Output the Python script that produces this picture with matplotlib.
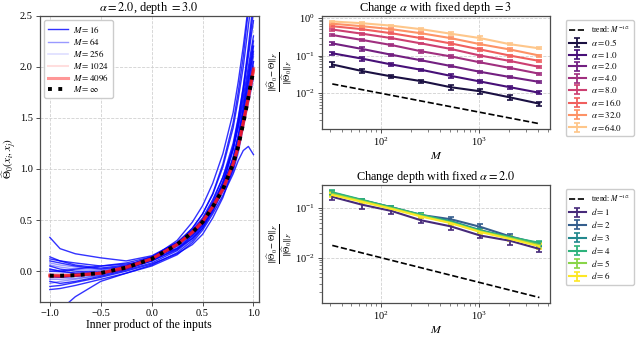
import numpy as np
import matplotlib
matplotlib.use("Agg")
import matplotlib.pyplot as plt

plt.rcParams['font.family'] = ['Liberation Serif', 'DejaVu Serif']
plt.rcParams['mathtext.fontset'] = 'stix'

# ---- left panel: empirical kernel vs inner product ----
grid_x = [-1.0, -0.9, -0.75, -0.5, -0.25, 0.0, 0.25, 0.4, 0.5, 0.6, 0.7, 0.8, 0.85, 0.9, 0.95, 1.0]
theta_inf = [-0.045, -0.045, -0.04, -0.018, 0.035, 0.12, 0.26, 0.38, 0.48, 0.63, 0.80, 1.05, 1.22, 1.45, 1.70, 1.97]

curves_m16 = [
    [0.33, 0.22, 0.17, 0.13, 0.10, 0.15, 0.28, 0.40, 0.52, 0.70, 0.92, 1.20, 1.42, 1.70, 2.00, 2.30],
    [-0.45, -0.38, -0.25, -0.10, -0.02, 0.05, 0.16, 0.28, 0.40, 0.56, 0.74, 0.95, 1.08, 1.18, 1.22, 1.14],
    [0.14, 0.10, 0.06, 0.03, 0.06, 0.13, 0.30, 0.48, 0.64, 0.86, 1.15, 1.55, 1.85, 2.20, 2.60, 3.00],
    [0.10, 0.08, 0.05, 0.02, 0.05, 0.14, 0.28, 0.42, 0.56, 0.75, 1.02, 1.40, 1.68, 2.00, 2.40, 2.80],
    [0.05, 0.02, 0.00, -0.01, 0.03, 0.11, 0.25, 0.38, 0.50, 0.68, 0.92, 1.25, 1.50, 1.80, 2.15, 2.55],
    [-0.10, -0.12, -0.10, -0.05, 0.01, 0.08, 0.20, 0.32, 0.42, 0.58, 0.80, 1.10, 1.32, 1.60, 1.90, 2.20],
    [-0.15, -0.14, -0.11, -0.06, 0.00, 0.07, 0.17, 0.26, 0.36, 0.52, 0.72, 1.00, 1.20, 1.45, 1.75, 2.05],
    [-0.18, -0.17, -0.14, -0.08, -0.02, 0.06, 0.18, 0.30, 0.42, 0.60, 0.85, 1.20, 1.45, 1.75, 2.10, 2.45],
    [0.02, 0.00, -0.02, -0.02, 0.02, 0.10, 0.26, 0.42, 0.56, 0.76, 1.05, 1.45, 1.75, 2.10, 2.55, 3.00],
    [0.12, 0.10, 0.08, 0.05, 0.08, 0.14, 0.22, 0.32, 0.44, 0.62, 0.86, 1.18, 1.40, 1.65, 1.95, 2.25],
    [-0.05, -0.06, -0.05, -0.02, 0.03, 0.10, 0.22, 0.35, 0.47, 0.64, 0.88, 1.22, 1.48, 1.80, 2.20, 2.65],
    [0.00, 0.00, 0.02, 0.05, 0.07, 0.10, 0.21, 0.34, 0.45, 0.60, 0.82, 1.12, 1.32, 1.56, 1.85, 2.15],
]
curves_m64 = [
    [0.06, 0.04, 0.02, 0.00, 0.05, 0.14, 0.28, 0.40, 0.51, 0.67, 0.86, 1.08, 1.28, 1.55, 1.82, 2.10],
    [-0.08, -0.08, -0.07, -0.04, 0.02, 0.10, 0.23, 0.35, 0.45, 0.60, 0.78, 0.98, 1.17, 1.42, 1.66, 1.90],
    [0.00, -0.01, -0.02, -0.02, 0.03, 0.12, 0.25, 0.37, 0.47, 0.62, 0.80, 1.00, 1.18, 1.44, 1.70, 1.98],
    [-0.12, -0.10, -0.08, -0.04, 0.02, 0.11, 0.26, 0.39, 0.50, 0.66, 0.86, 1.10, 1.32, 1.60, 1.90, 2.20],
    [0.02, 0.00, -0.02, -0.01, 0.04, 0.13, 0.27, 0.38, 0.49, 0.64, 0.84, 1.06, 1.26, 1.52, 1.78, 2.05],
    [-0.04, -0.05, -0.05, -0.03, 0.03, 0.11, 0.24, 0.36, 0.46, 0.61, 0.79, 1.00, 1.19, 1.45, 1.72, 2.00],
    [0.08, 0.06, 0.04, 0.01, 0.05, 0.13, 0.25, 0.36, 0.45, 0.59, 0.77, 0.97, 1.15, 1.40, 1.64, 1.88],
    [-0.06, -0.06, -0.05, -0.03, 0.02, 0.11, 0.26, 0.39, 0.50, 0.66, 0.85, 1.08, 1.28, 1.56, 1.84, 2.12],
]
curves_m256 = [
    [-0.02, -0.03, -0.03, -0.01, 0.04, 0.13, 0.27, 0.39, 0.49, 0.64, 0.83, 1.04, 1.24, 1.48, 1.74, 2.01],
    [-0.07, -0.06, -0.05, -0.03, 0.03, 0.11, 0.25, 0.37, 0.47, 0.62, 0.80, 1.00, 1.20, 1.43, 1.68, 1.94],
    [-0.04, -0.04, -0.04, -0.02, 0.04, 0.12, 0.26, 0.38, 0.48, 0.63, 0.82, 1.02, 1.22, 1.46, 1.72, 1.99],
    [-0.06, -0.06, -0.05, -0.02, 0.03, 0.12, 0.27, 0.39, 0.50, 0.65, 0.84, 1.06, 1.26, 1.52, 1.78, 2.05],
    [-0.03, -0.04, -0.04, -0.02, 0.03, 0.11, 0.25, 0.37, 0.47, 0.62, 0.81, 1.01, 1.20, 1.45, 1.70, 1.96],
]
curves_m1024 = [
    [-0.04, -0.04, -0.04, -0.02, 0.04, 0.12, 0.26, 0.38, 0.49, 0.64, 0.81, 1.06, 1.23, 1.47, 1.72, 1.99],
    [-0.05, -0.05, -0.04, -0.02, 0.03, 0.12, 0.26, 0.38, 0.48, 0.62, 0.79, 1.04, 1.21, 1.44, 1.69, 1.95],
    [-0.05, -0.04, -0.04, -0.02, 0.04, 0.12, 0.27, 0.39, 0.49, 0.63, 0.81, 1.05, 1.23, 1.46, 1.71, 1.98],
]
curves_m4096 = [
    [-0.04, -0.04, -0.04, -0.02, 0.04, 0.12, 0.26, 0.38, 0.48, 0.63, 0.80, 1.05, 1.22, 1.45, 1.70, 1.97],
    [-0.05, -0.05, -0.04, -0.02, 0.03, 0.12, 0.26, 0.38, 0.48, 0.63, 0.80, 1.04, 1.21, 1.44, 1.69, 1.96],
    [-0.04, -0.05, -0.04, -0.02, 0.04, 0.12, 0.26, 0.38, 0.49, 0.63, 0.81, 1.05, 1.22, 1.46, 1.71, 1.98],
]

# ---- right panels: relative error vs width M ----
widths = [32, 64, 128, 256, 512, 1024, 2048, 4096]
alphas = [0.5, 1.0, 2.0, 4.0, 8.0, 16.0, 32.0, 64.0]
err_alpha = [
    [0.058, 0.039, 0.028, 0.021, 0.0145, 0.0113, 0.0078, 0.0053],
    [0.115, 0.083, 0.058, 0.042, 0.029, 0.0205, 0.0145, 0.0103],
    [0.21, 0.15, 0.105, 0.075, 0.053, 0.037, 0.027, 0.020],
    [0.35, 0.26, 0.19, 0.13, 0.095, 0.066, 0.047, 0.033],
    [0.49, 0.38, 0.29, 0.21, 0.15, 0.10, 0.072, 0.050],
    [0.60, 0.50, 0.39, 0.29, 0.21, 0.145, 0.10, 0.072],
    [0.70, 0.60, 0.50, 0.39, 0.29, 0.20, 0.145, 0.10],
    [0.80, 0.72, 0.62, 0.50, 0.38, 0.29, 0.20, 0.155],
]
std_alpha = [
    [0.009, 0.005, 0.003, 0.002, 0.0025, 0.0015, 0.0013, 0.0007],
    [0.012, 0.010, 0.006, 0.003, 0.003, 0.002, 0.0012, 0.0009],
    [0.015, 0.015, 0.008, 0.005, 0.004, 0.003, 0.002, 0.0015],
    [0.03, 0.015, 0.01, 0.01, 0.007, 0.004, 0.003, 0.002],
    [0.03, 0.02, 0.02, 0.01, 0.012, 0.006, 0.004, 0.003],
    [0.03, 0.03, 0.02, 0.02, 0.015, 0.010, 0.006, 0.005],
    [0.04, 0.03, 0.03, 0.02, 0.02, 0.015, 0.01, 0.006],
    [0.04, 0.04, 0.03, 0.03, 0.03, 0.03, 0.015, 0.01],
]
depths = [1, 2, 3, 4, 5, 6]
err_depth = [
    [0.170, 0.118, 0.088, 0.057, 0.043, 0.028, 0.022, 0.015],
    [0.200, 0.145, 0.105, 0.073, 0.060, 0.042, 0.027, 0.019],
    [0.205, 0.145, 0.103, 0.072, 0.055, 0.036, 0.026, 0.019],
    [0.210, 0.148, 0.104, 0.074, 0.053, 0.035, 0.026, 0.020],
    [0.195, 0.140, 0.100, 0.070, 0.051, 0.034, 0.025, 0.018],
    [0.185, 0.135, 0.097, 0.068, 0.050, 0.033, 0.024, 0.017],
]
std_depth = [
    [0.025, 0.020, 0.013, 0.007, 0.006, 0.003, 0.004, 0.002],
    [0.015, 0.008, 0.006, 0.006, 0.007, 0.006, 0.003, 0.002],
    [0.015, 0.008, 0.006, 0.005, 0.004, 0.004, 0.002, 0.002],
    [0.020, 0.008, 0.006, 0.006, 0.004, 0.003, 0.002, 0.002],
    [0.015, 0.008, 0.006, 0.005, 0.004, 0.003, 0.002, 0.002],
    [0.015, 0.008, 0.006, 0.005, 0.004, 0.003, 0.002, 0.002],
]
trend_scale = 0.1

fig = plt.figure(figsize=(6.4, 3.53), dpi=100)
ax_k = fig.add_axes([0.062, 0.145, 0.342, 0.811])
ax_a = fig.add_axes([0.503, 0.635, 0.356, 0.321])
ax_d = fig.add_axes([0.503, 0.142, 0.356, 0.334])

spine_col = '0.3'
for ax in (ax_k, ax_a, ax_d):
    for s in ax.spines.values():
        s.set_color(spine_col)
        s.set_linewidth(0.9)
    ax.grid(True, color='0.82', linestyle='--', linewidth=0.6)
    ax.set_axisbelow(True)
    ax.tick_params(labelsize=7.5, length=3, width=0.7, color=spine_col, pad=2)

# left panel
groups = [
    (curves_m16, r'$M=16$', (0.0, 0.0, 1.0, 0.8), 1.0),
    (curves_m64, r'$M=64$', (0.0, 0.0, 1.0, 0.4), 1.0),
    (curves_m256, r'$M=256$', (0.0, 0.0, 1.0, 0.13), 1.2),
    (curves_m1024, r'$M=1024$', (1.0, 0.0, 0.0, 0.13), 1.5),
    (curves_m4096, r'$M=4096$', (1.0, 0.1, 0.1, 0.45), 2.2),
]
for curves, label, col, lw in groups:
    for i, c in enumerate(curves):
        ax_k.plot(grid_x, c, color=col, linewidth=lw, label=label if i == 0 else None)
ax_k.plot(grid_x, theta_inf, color='black', linestyle=':', linewidth=2.8, label=r'$M=\infty$')
ax_k.set_xlim(-1.1, 1.05)
ax_k.set_ylim(-0.3, 2.5)
ax_k.set_xticks([-1.0, -0.5, 0.0, 0.5, 1.0])
ax_k.set_xticklabels(['\u22121.0', '\u22120.5', '0.0', '0.5', '1.0'])
ax_k.set_yticks([0.0, 0.5, 1.0, 1.5, 2.0, 2.5])
ax_k.set_title(r'$\alpha=2.0$, depth $=3.0$', fontsize=8.8, pad=1.5)
ax_k.set_xlabel('Inner product of the inputs', fontsize=8.5, labelpad=1)
ax_k.set_ylabel(r'$\widehat{\Theta}_0(x_i,x_j)$', fontsize=8, labelpad=1)
ax_k.legend(loc='upper left', fontsize=6.5, handlelength=2.2, borderpad=0.4,
            labelspacing=0.15, handletextpad=0.6, framealpha=1, edgecolor='0.8')

ylab = r'$\frac{\Vert\widehat{\Theta}_0-\Theta\Vert_F}{\Vert\widehat{\Theta}_0\Vert_F}$'

def trend_line(ax):
    trend = [trend_scale / np.sqrt(m) for m in widths]
    ax.plot(widths, trend, color='black', linestyle='--', linewidth=1.2,
            label=r'trend: $M^{-1/2}$')

leg_kw = dict(loc='upper left', bbox_to_anchor=(1.05, 1.0), fontsize=6.5,
              handlelength=1.8, handletextpad=0.6, labelspacing=0.2, borderpad=0.4,
              framealpha=1, edgecolor='0.8')

# top right: vary alpha
trend_line(ax_a)
alpha_cols = plt.cm.magma(np.linspace(0.12, 0.88, len(alphas)))
for a, vals, sd, col in zip(alphas, err_alpha, std_alpha, alpha_cols):
    ax_a.errorbar(widths, vals, yerr=sd, color=col, linewidth=1.5, elinewidth=1.3,
                  capsize=2.2, capthick=1.2, label=r'$\alpha=%s$' % a)
ax_a.set_xscale('log')
ax_a.set_yscale('log')
ax_a.set_title(r'Change $\alpha$ with fixed depth $=3$', fontsize=8.8, pad=1.5)
ax_a.set_xlabel(r'$M$', fontsize=8.5, labelpad=1)
ax_a.set_ylabel(ylab, fontsize=9, labelpad=1)
leg = ax_a.legend(**leg_kw)
leg.get_texts()[0].set_fontsize(5.5)

# bottom right: vary depth
trend_line(ax_d)
depth_cols = plt.cm.viridis(np.linspace(0.12, 1.0, len(depths)))
for d, vals, sd, col in zip(depths, err_depth, std_depth, depth_cols):
    ax_d.errorbar(widths, vals, yerr=sd, color=col, linewidth=1.5, elinewidth=1.3,
                  capsize=2.2, capthick=1.2, label=r'$d=%d$' % d)
ax_d.set_xscale('log')
ax_d.set_yscale('log')
ax_d.set_title(r'Change depth with fixed $\alpha=2.0$', fontsize=8.8, pad=1.5)
ax_d.set_xlabel(r'$M$', fontsize=8.5, labelpad=1)
ax_d.set_ylabel(ylab, fontsize=9, labelpad=1)
leg = ax_d.legend(**leg_kw)
leg.get_texts()[0].set_fontsize(5.5)

for ax in (ax_a, ax_d):
    ax.tick_params(which='minor', length=2, width=0.5, color=spine_col)

fig.savefig('out.png', dpi=100)
